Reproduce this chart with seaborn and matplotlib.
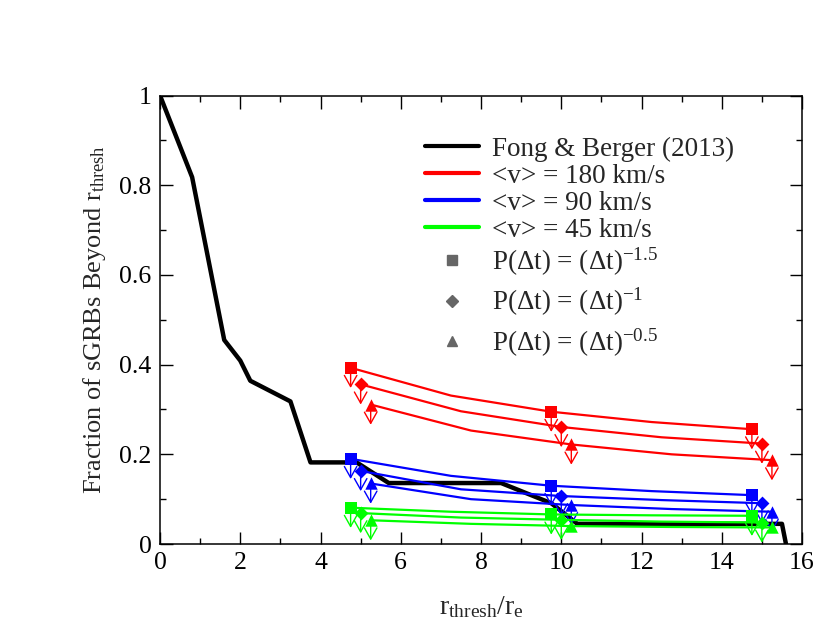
import matplotlib
matplotlib.use('Agg')
import matplotlib.pyplot as plt
import seaborn as sns
from matplotlib.lines import Line2D
from matplotlib.ticker import MultipleLocator, FuncFormatter

# Fong & Berger (2013) observed fraction
r_fong = [0, 0.8, 1.6, 2.0, 2.25, 3.25, 3.75, 4.9, 5.7, 8.5, 9.75, 10.4, 15.5, 15.6]
frac_fong = [1.0, 0.818, 0.455, 0.409, 0.364, 0.318, 0.182, 0.182, 0.136, 0.136, 0.091, 0.045, 0.045, 0.0]

# model r grids for the three delay-time distributions
r_sq = [4.75, 7.25, 9.75, 12.25, 14.75]
r_di = [5.0, 7.5, 10.0, 12.5, 15.0]
r_tr = [5.25, 7.75, 10.25, 12.75, 15.25]
marker_idx = [0, 2, 4]

# <v> = 180 km/s
f180_sq = [0.393, 0.331, 0.295, 0.272, 0.256]
f180_di = [0.356, 0.296, 0.261, 0.238, 0.224]
f180_tr = [0.311, 0.253, 0.222, 0.200, 0.187]
# <v> = 90 km/s
f90_sq = [0.190, 0.152, 0.130, 0.118, 0.109]
f90_di = [0.163, 0.122, 0.107, 0.098, 0.091]
f90_tr = [0.135, 0.100, 0.087, 0.078, 0.072]
# <v> = 45 km/s
f45_sq = [0.081, 0.072, 0.066, 0.064, 0.063]
f45_di = [0.069, 0.059, 0.054, 0.050, 0.048]
f45_tr = [0.053, 0.045, 0.040, 0.038, 0.037]

series = [
    ('red', r_sq, f180_sq, 's'), ('red', r_di, f180_di, 'D'), ('red', r_tr, f180_tr, '^'),
    ('blue', r_sq, f90_sq, 's'), ('blue', r_di, f90_di, 'D'), ('blue', r_tr, f90_tr, '^'),
    ('#00ff00', r_sq, f45_sq, 's'), ('#00ff00', r_di, f45_di, 'D'), ('#00ff00', r_tr, f45_tr, '^'),
]
marker_size = {'s': 80, 'D': 50, '^': 80}
arrow_len = 0.045

sns.set_style('ticks')
plt.rcParams['font.family'] = ['Liberation Serif', 'DejaVu Serif']
plt.rcParams['mathtext.fontset'] = 'custom'
plt.rcParams['mathtext.rm'] = 'Liberation Serif'
plt.rcParams['mathtext.it'] = 'Liberation Serif:italic'

fig = plt.figure(figsize=(8.3, 6.42), dpi=100)
ax = fig.add_axes([0.1928, 0.1526, 0.7735, 0.6986])

sns.lineplot(x=r_fong, y=frac_fong, color='black', lw=3.2, estimator=None, sort=False, ax=ax, zorder=3)

for color, r, f, mk in series:
    sns.lineplot(x=r, y=f, color=color, lw=1.6, estimator=None, sort=False, ax=ax, zorder=4)
    xs = [r[i] for i in marker_idx]
    ys = [f[i] for i in marker_idx]
    # upper-limit arrows
    for x, y in zip(xs, ys):
        ax.annotate('', xy=(x, y - arrow_len), xytext=(x, y),
                    arrowprops=dict(arrowstyle='->,head_length=0.8,head_width=0.45',
                                    color=color, lw=1.0, shrinkA=0, shrinkB=0),
                    zorder=4)
    sns.scatterplot(x=xs, y=ys, color=color, marker=mk, s=marker_size[mk],
                    edgecolor=color, linewidth=0, ax=ax, zorder=5)

ax.set_xlim(0, 16)
ax.set_ylim(0, 1)
ax.xaxis.set_major_locator(MultipleLocator(2))
ax.xaxis.set_minor_locator(MultipleLocator(1))
ax.yaxis.set_major_locator(MultipleLocator(0.2))
ax.yaxis.set_minor_locator(MultipleLocator(0.1))
ax.yaxis.set_major_formatter(FuncFormatter(lambda v, p: f'{v:g}'))
ax.tick_params(which='both', direction='in', top=True, right=True, width=1.0,
               labelsize=18.5, colors='black', pad=6)
ax.tick_params(which='major', length=9)
ax.tick_params(which='minor', length=4.5)
for s in ax.spines.values():
    s.set_linewidth(1.1)
    s.set_color('black')

ax.set_xlabel(r'r$_{\mathrm{thresh}}$/r$_{\mathrm{e}}$', fontsize=20, labelpad=14)
ax.set_ylabel(r'Fraction of sGRBs Beyond r$_{\mathrm{thresh}}$', fontsize=19, labelpad=8)

gray = '#666666'
line_handles = [
    Line2D([], [], color='black', lw=3),
    Line2D([], [], color='red', lw=3),
    Line2D([], [], color='blue', lw=3),
    Line2D([], [], color='#00ff00', lw=3),
]
line_labels = ['Fong & Berger (2013)', '<v> = 180 km/s', '<v> = 90 km/s', '<v> = 45 km/s']
marker_handles = [
    Line2D([], [], color=gray, ls='none', marker='s', ms=7),
    Line2D([], [], color=gray, ls='none', marker='D', ms=6),
    Line2D([], [], color=gray, ls='none', marker='^', ms=7.5),
]
marker_labels = [
    'P(Δt) = (Δt)$^{-1.5}$',
    'P(Δt) = (Δt)$^{-1}$',
    'P(Δt) = (Δt)$^{-0.5}$',
]
leg1 = ax.legend(line_handles, line_labels, loc='upper left', bbox_to_anchor=(0.412, 0.908),
                 frameon=False, fontsize=19.5, handlelength=2.0, handletextpad=0.5,
                 labelspacing=0.07, borderaxespad=0, borderpad=0)
ax.add_artist(leg1)
ax.legend(marker_handles, marker_labels, loc='upper left', bbox_to_anchor=(0.412, 0.665),
          frameon=False, fontsize=19.5, handlelength=2.0, handletextpad=0.5,
          labelspacing=0.3, borderaxespad=0, borderpad=0)

plt.savefig('out.png', dpi=100)
plt.close()
